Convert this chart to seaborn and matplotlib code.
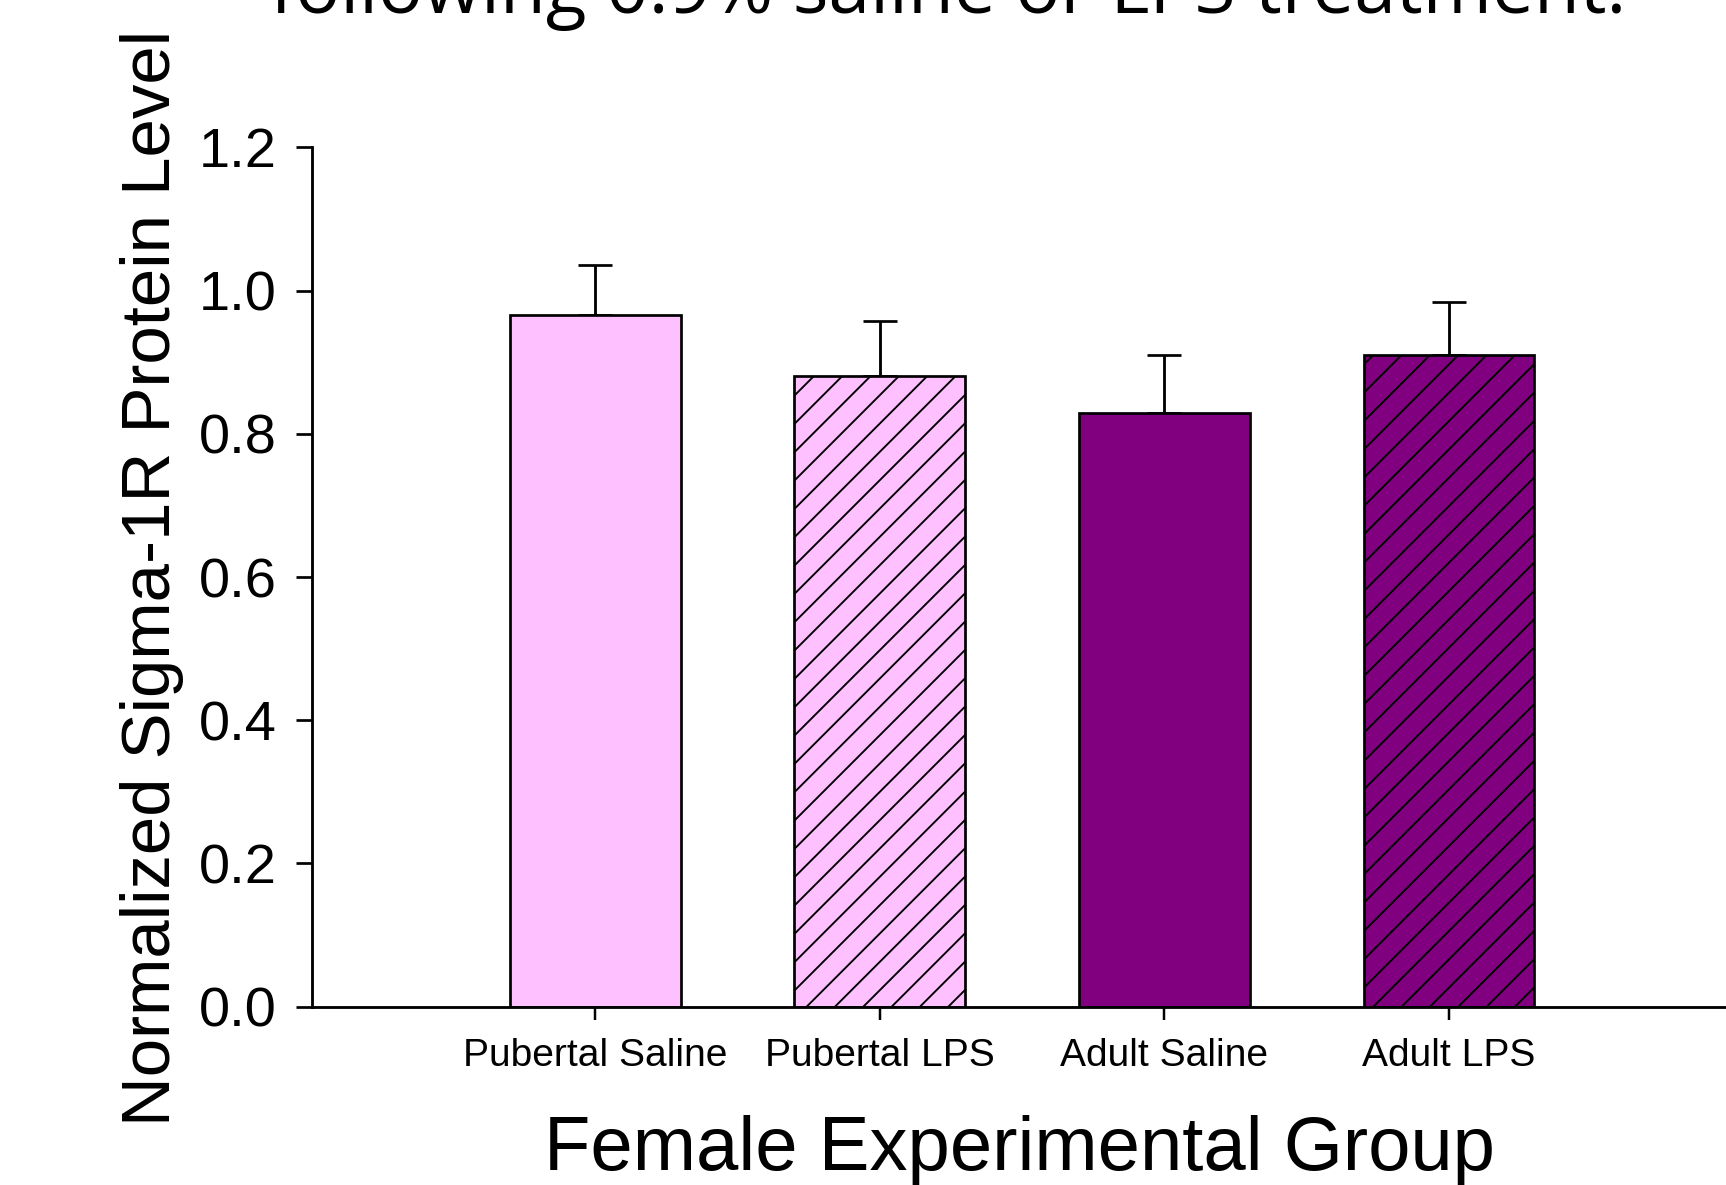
import numpy as np
import pandas as pd
import matplotlib
matplotlib.use("Agg")
import matplotlib.pyplot as plt
from matplotlib.ticker import FormatStrFormatter
import seaborn as sns

# Sigma-1R protein levels per female experimental group (mean, SEM)
groups = ["Pubertal Saline", "Pubertal LPS", "Adult Saline", "Adult LPS"]
means = [0.966, 0.880, 0.829, 0.910]
sems = [0.069, 0.078, 0.081, 0.074]
fill_colors = ["#FFC0FF", "#FFC0FF", "#800080", "#800080"]
hatches = ["", "//", "", "//"]
y_ticks = [0.0, 0.2, 0.4, 0.6, 0.8, 1.0, 1.2]

DPI = 170
W, H = 1726, 1185


def px2pt(px):
    return px * 72.0 / DPI


sns.set_theme(style="ticks")
plt.rcParams["font.family"] = ["Liberation Sans", "DejaVu Sans"]
plt.rcParams["hatch.linewidth"] = 0.8
plt.rcParams["hatch.color"] = "black"

df = pd.DataFrame({"group": groups, "level": means})

fig = plt.figure(figsize=(W / DPI, H / DPI), dpi=DPI)
ax = fig.add_axes([312 / W, 1 - 1006.7 / H, 1 - 312 / W, (1006.7 - 147.3) / H])

sns.barplot(data=df, x="group", y="level", hue="group", palette=fill_colors,
            order=groups, hue_order=groups, errorbar=None, width=0.6,
            saturation=1, edgecolor="black", linewidth=1.15, legend=False,
            ax=ax, zorder=2)
for bar, h in zip(ax.patches, hatches):
    bar.set_hatch(h)

# one-sided (upper) SEM bars, drawn behind the bars
ax.errorbar(np.arange(len(groups)), means,
            yerr=[np.zeros(len(sems)), sems], fmt="none", ecolor="black",
            elinewidth=1.2, capsize=7.2, capthick=1.15, zorder=1)

ax.set_xlim(-0.995, 3.973)
ax.set_ylim(0, 1.2)
ax.set_yticks(y_ticks)
ax.yaxis.set_major_formatter(FormatStrFormatter("%.1f"))
sns.despine(ax=ax)
for side in ("left", "bottom"):
    ax.spines[side].set_linewidth(1.2)
    ax.spines[side].set_color("black")

ax.tick_params(axis="y", length=px2pt(16), width=1.15, pad=px2pt(19),
               labelsize=px2pt(56), colors="black")
ax.tick_params(axis="x", length=px2pt(13), width=1.05, pad=px2pt(18),
               labelsize=px2pt(39), colors="black")

ax.set_xlabel("Female Experimental Group", fontsize=px2pt(76), color="black")
ax.xaxis.label.set_verticalalignment("baseline")
ax.xaxis.set_label_coords(0.5, (1006.7 - 1170) / (1006.7 - 147.3))

ax.set_ylabel("Normalized Sigma-1R Protein Level", fontsize=px2pt(69), color="black")
ax.yaxis.label.set_verticalalignment("baseline")
ax.yaxis.set_label_coords((170 - 312) / (W - 312), (1006.7 - 578) / (1006.7 - 147.3))

# slide heading, partly running off the top edge
title = fig.text(948 / W, 1 - 13 / H, "following 0.9% saline or LPS treatment.",
                 ha="center", va="baseline", fontsize=30,
                 family=["Open Sans", "DejaVu Sans"], color="black")
fig.canvas.draw()
tw = title.get_window_extent().width
title.set_fontsize(30 * 1357 / tw)

fig.savefig("out.png", dpi=DPI, facecolor="white")
